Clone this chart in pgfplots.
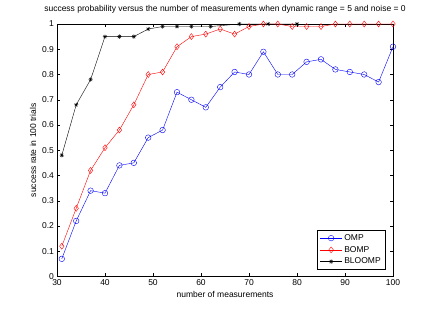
\documentclass[border=0pt]{standalone}
\usepackage{pgfplots}
\pgfplotsset{compat=1.18}
\usepackage{fontspec}
\setmainfont{Liberation Sans}
\pgfdeclareplotmark{mstar}{%
  \pgfpathmoveto{\pgfqpoint{-\pgfplotmarksize}{0pt}}\pgfpathlineto{\pgfqpoint{\pgfplotmarksize}{0pt}}%
  \pgfpathmoveto{\pgfqpoint{0pt}{-\pgfplotmarksize}}\pgfpathlineto{\pgfqpoint{0pt}{\pgfplotmarksize}}%
  \pgfpathmoveto{\pgfqpoint{-0.707\pgfplotmarksize}{-0.707\pgfplotmarksize}}\pgfpathlineto{\pgfqpoint{0.707\pgfplotmarksize}{0.707\pgfplotmarksize}}%
  \pgfpathmoveto{\pgfqpoint{-0.707\pgfplotmarksize}{0.707\pgfplotmarksize}}\pgfpathlineto{\pgfqpoint{0.707\pgfplotmarksize}{-0.707\pgfplotmarksize}}%
  \pgfusepathqstroke}
\newcommand\fs{\fontsize{8.5pt}{10pt}\selectfont}
\begin{document}
\fs
\begin{tikzpicture}
\useasboundingbox (0,0) rectangle (436pt,312pt);
\begin{axis}[
  at={(57pt,35.5pt)}, anchor=south west,
  scale only axis, width=336pt, height=252.5pt,
  xmin=30, xmax=100, ymin=0, ymax=1,
  xtick={30,40,...,100}, ytick={0,0.1,...,1.0},
  yticklabels={0,0.1,0.2,0.3,0.4,0.5,0.6,0.7,0.8,0.9,1},
  tick align=inside, major tick length=3pt,
  tick style={black, line width=0.4pt},
  axis line style={line width=0.5pt},
  /pgf/number format/assume math mode=true,
  ticklabel style={font=\fs},
  label style={font=\fs},
  title style={font=\fs, at={(axis description cs:0.5,1.0357)}, anchor=center},
  title={success probability versus the number of measurements when dynamic range = 5 and noise = 0},
  xlabel={number of measurements},
  ylabel={success rate in 100 trials},
  xlabel style={at={(axis description cs:0.5,-0.073)}, anchor=center},
  ylabel style={at={(axis description cs:-0.0714,0.5)}, anchor=center},
  legend style={at={(axis description cs:0.979,0.028)}, anchor=south east,
    font=\fs, draw=black, line width=0.5pt,
    row sep=0.5pt, inner xsep=3pt, inner ysep=2pt, cells={anchor=west}},
  legend image code/.code={\draw[mark repeat=2,mark phase=2,#1] plot coordinates {(0pt,0pt)(11pt,0pt)(22pt,0pt)};},
  legend cell align=left,
]
\addplot[blue, line width=0.4pt, mark=o, mark size=2.8pt, mark options={solid}] coordinates {
(31,0.07)(34,0.22)(37,0.34)(40,0.33)(43,0.44)(46,0.45)(49,0.55)(52,0.58)(55,0.73)(58,0.70)(61,0.67)(64,0.75)(67,0.81)(70,0.80)(73,0.89)(76,0.80)(79,0.80)(82,0.85)(85,0.86)(88,0.82)(91,0.81)(94,0.80)(97,0.77)(100,0.91)};
\addlegendentry{OMP}
\addplot[red, line width=0.4pt, mark=diamond, mark size=3pt, mark options={solid}] coordinates {
(31,0.12)(34,0.27)(37,0.42)(40,0.51)(43,0.58)(46,0.68)(49,0.80)(52,0.81)(55,0.91)(58,0.95)(61,0.96)(64,0.98)(67,0.96)(70,0.99)(73,1.00)(76,1.00)(79,0.99)(82,0.99)(85,0.99)(88,1.00)(91,1.00)(94,1.00)(97,1.00)(100,1.00)};
\addlegendentry{BOMP}
\addplot[black, line width=0.4pt, mark=mstar, mark size=2.2pt, mark options={solid}] coordinates {
(31,0.48)(34,0.68)(37,0.78)(40,0.95)(43,0.95)(46,0.95)(49,0.98)(52,0.99)(55,0.99)(58,0.99)(62,0.99)(68,1.00)(74,1.00)(80,1.00)};
\addlegendentry{BLOOMP}
\end{axis}
\end{tikzpicture}
\end{document}
